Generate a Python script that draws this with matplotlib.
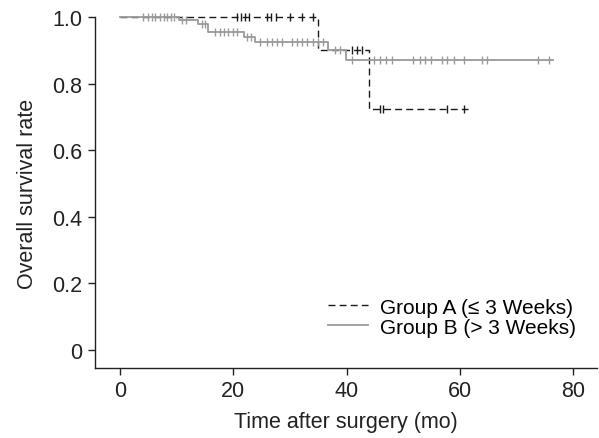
import numpy as np
import matplotlib.pyplot as plt

plt.rcParams['font.family'] = ['Liberation Sans', 'DejaVu Sans']

# Kaplan-Meier steps (time in months, survival after step)
a_step_t = [0, 35.0, 44.0]
a_step_s = [1.0, 0.90, 0.724]
a_end = 61.5
a_censor = [20.6, 21.3, 22.1, 22.8, 25.9, 26.6, 27.5, 30.0, 32.1, 34.0,
            40.9, 41.8, 42.7, 45.9, 46.5, 57.7, 60.7]

b_step_t = [0, 10.4, 13.8, 15.6, 21.9, 23.9, 36.8, 39.9]
b_step_s = [1.0, 0.991, 0.979, 0.955, 0.94, 0.926, 0.90, 0.87]
b_end = 76.5
b_censor = [4.1, 4.9, 5.6, 6.2, 7.0, 7.7, 8.3, 9.0, 9.6, 10.9, 11.7,
            14.4, 15.1, 16.8, 17.7, 18.4, 19.1, 19.9, 20.6, 22.4, 23.1,
            24.7, 25.9, 26.8, 27.7, 28.6, 30.3, 31.2, 32.1, 33.0, 34.1,
            35.0, 35.9, 38.0, 38.9, 40.9, 44.9, 45.9, 47.0, 48.0, 51.8,
            52.9, 53.9, 54.9, 56.8, 57.8, 58.9, 60.8, 63.9, 64.8, 73.7, 75.7]


def surv_at(t, step_t, step_s):
    idx = np.searchsorted(step_t, t, side='right') - 1
    return np.array(step_s)[idx]


fig = plt.figure(figsize=(5.99, 4.39), dpi=100)
ax = fig.add_axes([95 / 599, 70 / 439, 502 / 599, 351 / 439])

groups = [
    ('Group A (\u2264 3 Weeks)', a_step_t, a_step_s, a_end, a_censor, '#1a1a1a', (0, (5, 3)), 1.0),
    ('Group B (> 3 Weeks)', b_step_t, b_step_s, b_end, b_censor, '#9a9a9a', '-', 1.3),
]
# A first, B on top (grey hides the dashed line at the start)
for label, st, ss, end, cens, col, ls, lw in groups:
    xs = list(st) + [end]
    ys = list(ss) + [ss[-1]]
    ax.step(xs, ys, where='post', color=col, lw=lw, linestyle=ls,
            label=label, clip_on=False)
    ax.plot(cens, surv_at(cens, st, ss), linestyle='none', marker='|',
            markersize=6, markeredgewidth=1.0, color=col, clip_on=False)

ax.legend(loc='lower right', bbox_to_anchor=(1.0, 0.03), frameon=False,
          fontsize=15, handlelength=1.9, handletextpad=0.6,
          labelspacing=0.05, borderaxespad=0.6)

ax.set_xlim(-4.4, 84.2)
ax.set_ylim(-0.054, 1.0)
ax.set_xticks([0, 20, 40, 60, 80])
ax.set_yticks([0, 0.2, 0.4, 0.6, 0.8, 1.0])
ax.set_yticklabels(['0', '0.2', '0.4', '0.6', '0.8', '1.0'])
ax.spines['top'].set_visible(False)
ax.spines['right'].set_visible(False)
for s in ['left', 'bottom']:
    ax.spines[s].set_linewidth(1.0)
    ax.spines[s].set_color('#222222')
ax.tick_params(direction='out', length=5, width=1.0, labelsize=15.5,
               colors='#222222', pad=4)
ax.set_xlabel('Time after surgery (mo)', fontsize=15.5, color='#222222', labelpad=7)
ax.set_ylabel('Overall survival rate', fontsize=15.5, color='#222222', labelpad=10)

fig.savefig('out.png', dpi=100)
